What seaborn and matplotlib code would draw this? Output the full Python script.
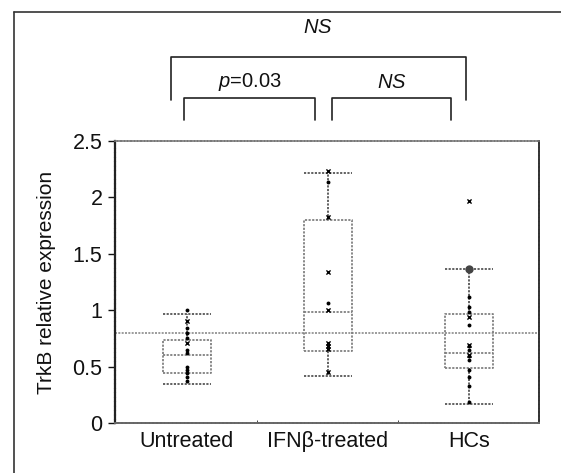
import numpy as np
import pandas as pd
import matplotlib.pyplot as plt
import seaborn as sns
from matplotlib.lines import Line2D

# -------------------------------------------------------
# Data
# -------------------------------------------------------
groups = ['Untreated', 'IFNβ-treated', 'HCs']

# box statistics per group: lower whisker, Q1, median, Q3, upper whisker
whisker_low = [0.35, 0.42, 0.17]
q1 = [0.44, 0.64, 0.485]
median = [0.60, 0.98, 0.62]
q3 = [0.74, 1.80, 0.97]
whisker_high = [0.97, 2.22, 1.365]

# individual samples (dots and crosses)
untreated_dots = [1.00, 0.84, 0.80, 0.75, 0.65, 0.62, 0.50, 0.47, 0.44, 0.41, 0.37]
untreated_cross = [0.90, 0.71]
ifn_dots = [2.14, 1.06]
ifn_cross = [2.23, 1.83, 1.34, 1.00, 0.71, 0.68, 0.66, 0.45]
hc_dots = [1.12, 1.03, 0.98, 0.87, 0.68, 0.65, 0.59, 0.56, 0.47, 0.41, 0.33, 0.19]
hc_cross = [1.97, 0.94, 0.69, 0.60]
hc_big_dot = [1.365]

ref_level = 0.8

# -------------------------------------------------------
# Tables
# -------------------------------------------------------
dots = pd.DataFrame({
    'grupa': [groups[0]] * len(untreated_dots) + [groups[1]] * len(ifn_dots) + [groups[2]] * len(hc_dots),
    'wartosc': untreated_dots + ifn_dots + hc_dots,
})
cross = pd.DataFrame({
    'grupa': [groups[0]] * len(untreated_cross) + [groups[1]] * len(ifn_cross) + [groups[2]] * len(hc_cross),
    'wartosc': untreated_cross + ifn_cross + hc_cross,
})
big = pd.DataFrame({'grupa': [groups[2]] * len(hc_big_dot), 'wartosc': hc_big_dot})

stats = []
for i, g in enumerate(groups):
    stats.append({'label': g, 'whislo': whisker_low[i], 'q1': q1[i], 'med': median[i],
                  'q3': q3[i], 'whishi': whisker_high[i], 'fliers': []})

# -------------------------------------------------------
# Plot
# -------------------------------------------------------
sns.set_style('ticks')
plt.rcParams['font.family'] = ['Liberation Sans', 'DejaVu Sans']
plt.rcParams['mathtext.fontset'] = 'custom'
plt.rcParams['mathtext.it'] = 'Liberation Sans:italic'
plt.rcParams['mathtext.rm'] = 'Liberation Sans'

fig = plt.figure(figsize=(5.61, 4.73), dpi=100)
ax = fig.add_axes([0.205, 0.1057, 0.756, 0.5963])

box_col = '#808080'
dotted = (0, (1.2, 0.8))
ax.bxp(stats, positions=range(len(groups)), widths=0.34, showfliers=False,
       boxprops=dict(color=box_col, linestyle=dotted, linewidth=1.3),
       whiskerprops=dict(color='#555555', linestyle=dotted, linewidth=1.3),
       capprops=dict(color='#555555', linestyle=dotted, linewidth=1.3),
       medianprops=dict(color=box_col, linestyle=dotted, linewidth=1.3),
       capwidths=0.34)

ax.axhline(ref_level, color='#8a8a8a', linestyle=dotted, linewidth=1.2, zorder=1)

sns.stripplot(data=dots, x='grupa', y='wartosc', order=groups, jitter=False,
              color='black', size=2.8, ax=ax, zorder=4)
sns.stripplot(data=cross, x='grupa', y='wartosc', order=groups, jitter=False,
              color='black', marker='x', size=3, linewidth=1, ax=ax, zorder=4)
sns.stripplot(data=big, x='grupa', y='wartosc', order=groups, jitter=False,
              color='#444444', size=6, ax=ax, zorder=4)

ax.set_xlim(-0.51, 2.5)
ax.set_ylim(0, 2.5)
ax.set_yticks([0, 0.5, 1, 1.5, 2, 2.5])
ax.set_yticklabels(['0', '0.5', '1', '1.5', '2', '2.5'])
ax.set_xticks(range(len(groups)))
ax.set_xticklabels(groups)
ax.tick_params(axis='x', length=0, pad=6, labelsize=15.5, colors='#111111')
ax.tick_params(axis='y', length=5, width=1, pad=4, labelsize=15.5, colors='#111111')
ax.set_xticks([0.5, 1.5], minor=True)
ax.tick_params(axis='x', which='minor', length=2, direction='in')
ax.set_xlabel('')
ax.set_ylabel('TrkB relative expression', fontsize=15, labelpad=12, color='#111111')

for side in ['left', 'bottom', 'top', 'right']:
    ax.spines[side].set_visible(True)
    ax.spines[side].set_linestyle(dotted)
ax.spines['left'].set_color('#222222')
ax.spines['left'].set_linewidth(1.6)
ax.spines['right'].set_color('#333333')
ax.spines['right'].set_linewidth(1.4)
ax.spines['top'].set_color('#777777')
ax.spines['bottom'].set_color('#666666')
ax.spines['top'].set_linewidth(1.2)
ax.spines['bottom'].set_linewidth(1.4)

# brackets with significance labels
def bracket(x0, x1, y_top, y_bot, label, y_text):
    ax.plot([x0, x0, x1, x1], [y_bot, y_top, y_top, y_bot], color='#222222',
            linewidth=1.2, clip_on=False)
    ax.text((x0 + x1) / 2, y_text, label, ha='center', va='center',
            fontsize=14.5, clip_on=False, color='#111111')

bracket(-0.02, 0.91, 2.88, 2.69, r'$p$=0.03', 3.02)
bracket(1.03, 1.876, 2.88, 2.69, r'$NS$', 3.02)
bracket(-0.116, 1.98, 3.245, 2.86, r'$NS$', 3.51)

# frame around the figure (top + left only, as in the scan)
fig.add_artist(Line2D([0.025, 1.0], [0.975, 0.975], color='#333333', linewidth=1.2))
fig.add_artist(Line2D([0.025, 0.025], [0.0, 0.975], color='#333333', linewidth=1.2))

plt.savefig('out.png', dpi=100)
plt.close()
